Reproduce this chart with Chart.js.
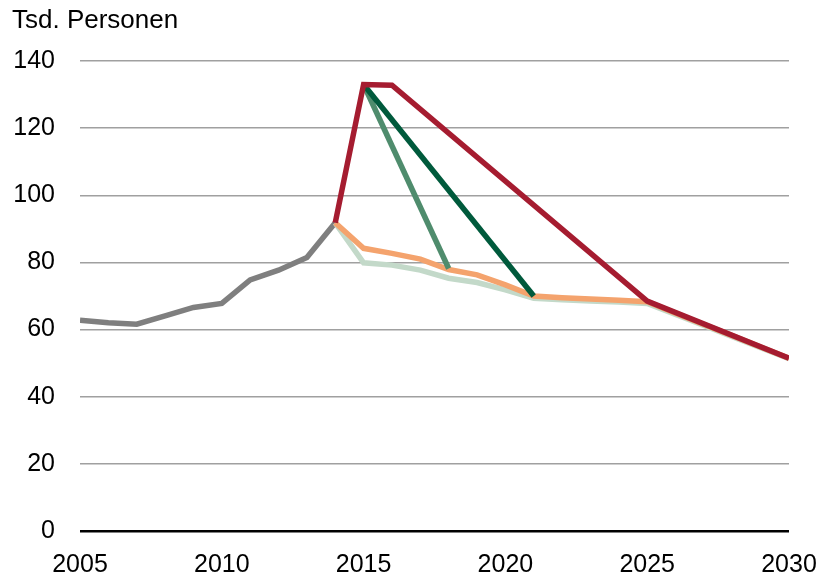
<!DOCTYPE html>
<html>
<head>
<meta charset="utf-8">
<script src="https://cdn.jsdelivr.net/npm/chart.js@4.4.1/dist/chart.umd.min.js"></script>
<style>
  html, body { margin: 0; padding: 0; background: #fff; }
  #wrap { width: 821px; height: 575px; position: relative; }
</style>
</head>
<body>
<div id="wrap"><canvas id="chartCanvas" width="821" height="575"></canvas></div>
<script>
// Werte (Tsd. Personen)
var histYears = [2005, 2006, 2007, 2008, 2009, 2010, 2011, 2012, 2013, 2014];
var histValues = [62.8, 62.0, 61.6, 64.1, 66.6, 67.8, 74.8, 77.7, 81.5, 91.8];

var scenYears = [2014, 2015, 2016, 2017, 2018, 2019, 2020, 2021, 2022, 2023, 2024, 2025, 2026, 2027, 2028, 2029, 2030];
var orangeValues = [91.8, 84.2, 82.7, 81.0, 77.9, 76.3, 73.3, 70.0, 69.5, 69.1, 68.7, 68.3, 64.9, 61.5, 58.2, 54.8, 51.5];
var paleValues = [91.8, 79.9, 79.2, 77.7, 75.3, 74.0, 71.8, 69.3, 68.9, 68.5, 68.2, 67.8, 64.5, 61.2, 57.9, 54.6, 51.3];

var midGreenYears = [2015, 2018];
var midGreenValues = [133.0, 78.2];

var darkGreenYears = [2015, 2021];
var darkGreenValues = [133.0, 70.0];

var redYears = [2014, 2015, 2016, 2025, 2030];
var redValues = [91.8, 133.0, 132.8, 68.5, 51.5];

var yTicks = [0, 20, 40, 60, 80, 100, 120, 140];
var xTicks = [2005, 2010, 2015, 2020, 2025, 2030];
var unitLabel = 'Tsd. Personen';

function pts(xs, ys) {
  return xs.map(function(x, i) { return { x: x, y: ys[i] }; });
}

function line(data, color) {
  return {
    data: data,
    borderColor: color,
    backgroundColor: 'transparent',
    borderWidth: 5.5,
    pointRadius: 0,
    tension: 0,
    borderJoinStyle: 'miter'
  };
}

// erster Datensatz wird zuoberst gezeichnet
var datasets = [
  line(pts(redYears, redValues), '#a51c30'),
  line(pts(darkGreenYears, darkGreenValues), '#005a3c'),
  line(pts(midGreenYears, midGreenValues), '#4f8c6d'),
  line(pts(scenYears, orangeValues), '#f4a36d'),
  line(pts(scenYears, paleValues), '#c3d9c9'),
  line(pts(histYears, histValues), '#7f7f7f')
];

var unitPlugin = {
  id: 'unitLabel',
  afterDraw: function(chart) {
    var c = chart.ctx;
    c.save();
    c.font = '26px "Liberation Sans", Arial, sans-serif';
    c.fillStyle = '#000';
    c.textBaseline = 'middle';
    c.textAlign = 'left';
    c.fillText(unitLabel, 12, 21);
    c.restore();
  }
};

var tickFont = { family: '"Liberation Sans", Arial, sans-serif', size: 25 };

new Chart(document.getElementById('chartCanvas').getContext('2d'), {
  type: 'line',
  data: { datasets: datasets },
  plugins: [unitPlugin],
  options: {
    responsive: false,
    animation: false,
    layout: { padding: { left: 0, right: 32, top: 61, bottom: 0 } },
    plugins: { legend: { display: false }, tooltip: { enabled: false }, title: { display: false } },
    scales: {
      x: {
        type: 'linear',
        min: 2005,
        max: 2030,
        grid: { display: false, drawTicks: false },
        border: { display: false },
        afterBuildTicks: function(scale) { scale.ticks = xTicks.map(function(v) { return { value: v }; }); },
        afterFit: function(scale) {
          scale.height = 44;
          scale.paddingLeft = 0;
          scale.paddingRight = 0;
        },
        ticks: {
          padding: 19,
          maxRotation: 0,
          color: '#000',
          font: tickFont,
          callback: function(v) { return String(v); }
        }
      },
      y: {
        min: 0,
        max: 140,
        afterBuildTicks: function(scale) { scale.ticks = yTicks.map(function(v) { return { value: v }; }); },
        afterFit: function(scale) {
          scale.width = 80;
          scale.paddingTop = 0;
          scale.paddingBottom = 0;
        },
        border: { display: false },
        grid: {
          drawTicks: false,
          color: function(ctx) { return ctx.tick && ctx.tick.value === 0 ? '#000' : '#a0a0a0'; },
          lineWidth: function(ctx) { return ctx.tick && ctx.tick.value === 0 ? 2.5 : 1.5; }
        },
        ticks: {
          padding: 25,
          color: '#000',
          font: tickFont
        }
      }
    }
  }
});
</script>
</body>
</html>
